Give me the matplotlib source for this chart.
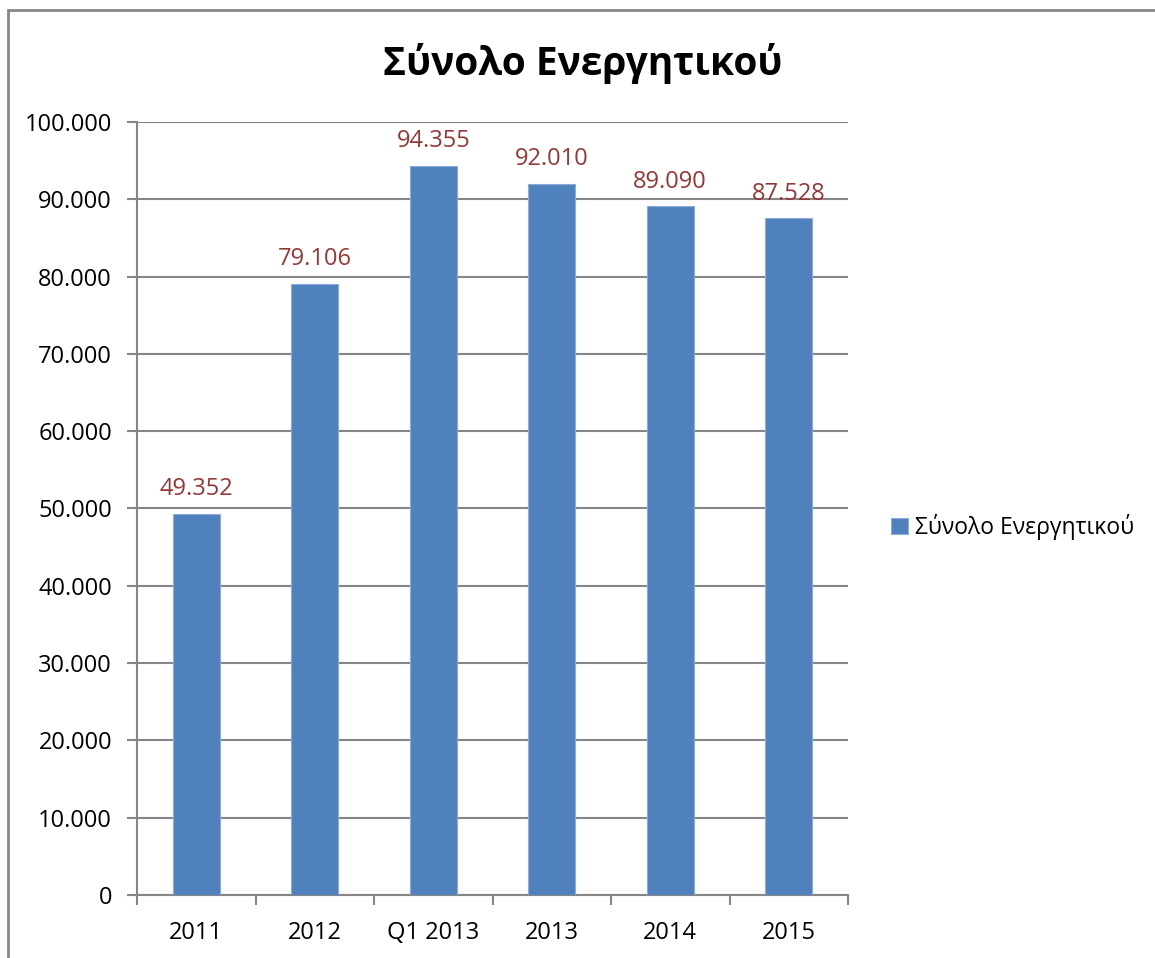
import matplotlib.pyplot as plt
from matplotlib.patches import Rectangle
from matplotlib.ticker import FuncFormatter, FixedLocator

plt.rcParams['font.family'] = ['Open Sans', 'DejaVu Sans']

categories = ['2011', '2012', 'Q1 2013', '2013', '2014', '2015']
values = [49352, 79106, 94355, 92010, 89090, 87528]
series_name = 'Σύνολο Ενεργητικού'
title = 'Σύνολο Ενεργητικού'

bar_color = '#4F81BD'
label_color = '#953735'
grid_color = '#868686'


def dotted(v, pos=None):
    """Format a number with dots as thousands separators."""
    return f'{int(round(v)):,}'.replace(',', '.')


fig = plt.figure(figsize=(11.55, 9.58), dpi=100)
ax = fig.add_axes([137 / 1155, 1 - 895 / 958, (848 - 137) / 1155, (895 - 122) / 958])

x = range(len(categories))
bars = ax.bar(x, values, width=0.4, color=bar_color, edgecolor='#8EAADB',
              linewidth=0.8, label=series_name, zorder=3)

for b, v in zip(bars, values):
    ax.annotate(dotted(v), (b.get_x() + b.get_width() / 2, v),
                xytext=(0, 9), textcoords='offset points',
                ha='center', va='bottom', fontsize=17, color=label_color)

ax.set_xlim(-0.5, len(categories) - 0.5)
ax.set_ylim(0, 100000)
ax.set_yticks(range(0, 100001, 10000))
ax.yaxis.set_major_formatter(FuncFormatter(dotted))
ax.set_xticks(list(x))
ax.set_xticklabels(categories)
ax.xaxis.set_minor_locator(FixedLocator([i - 0.5 for i in range(len(categories) + 1)]))

ax.tick_params(axis='y', length=7, width=1.5, color=grid_color, labelsize=17, pad=11)
ax.tick_params(axis='x', which='major', length=0, labelsize=17, pad=19)
ax.tick_params(axis='x', which='minor', length=7, width=1.5, color=grid_color)

ax.grid(axis='y', color=grid_color, linewidth=1.5, zorder=0)
for side in ['top', 'right']:
    ax.spines[side].set_visible(False)
for side in ['left', 'bottom']:
    ax.spines[side].set_color(grid_color)
    ax.spines[side].set_linewidth(1.5)

fig.text(0.5 * (385 + 780) / 1155, 1 - 63 / 958, title, ha='center', va='center',
         fontsize=28, fontweight='bold')

fig.legend(handles=[bars], labels=[series_name], loc='center left',
           bbox_to_anchor=(870 / 1155, 1 - 527 / 958), frameon=False,
           fontsize=16.5, handlelength=0.75, handleheight=0.75, handletextpad=0.3)

# outer chart border, running off the right and bottom edges
fig.patches.append(Rectangle((8 / 1155, -0.1), 1.2, 1 - 10 / 958 + 0.1,
                             transform=fig.transFigure, fill=False,
                             edgecolor=grid_color, linewidth=2))

fig.savefig('out.png', dpi=100)
